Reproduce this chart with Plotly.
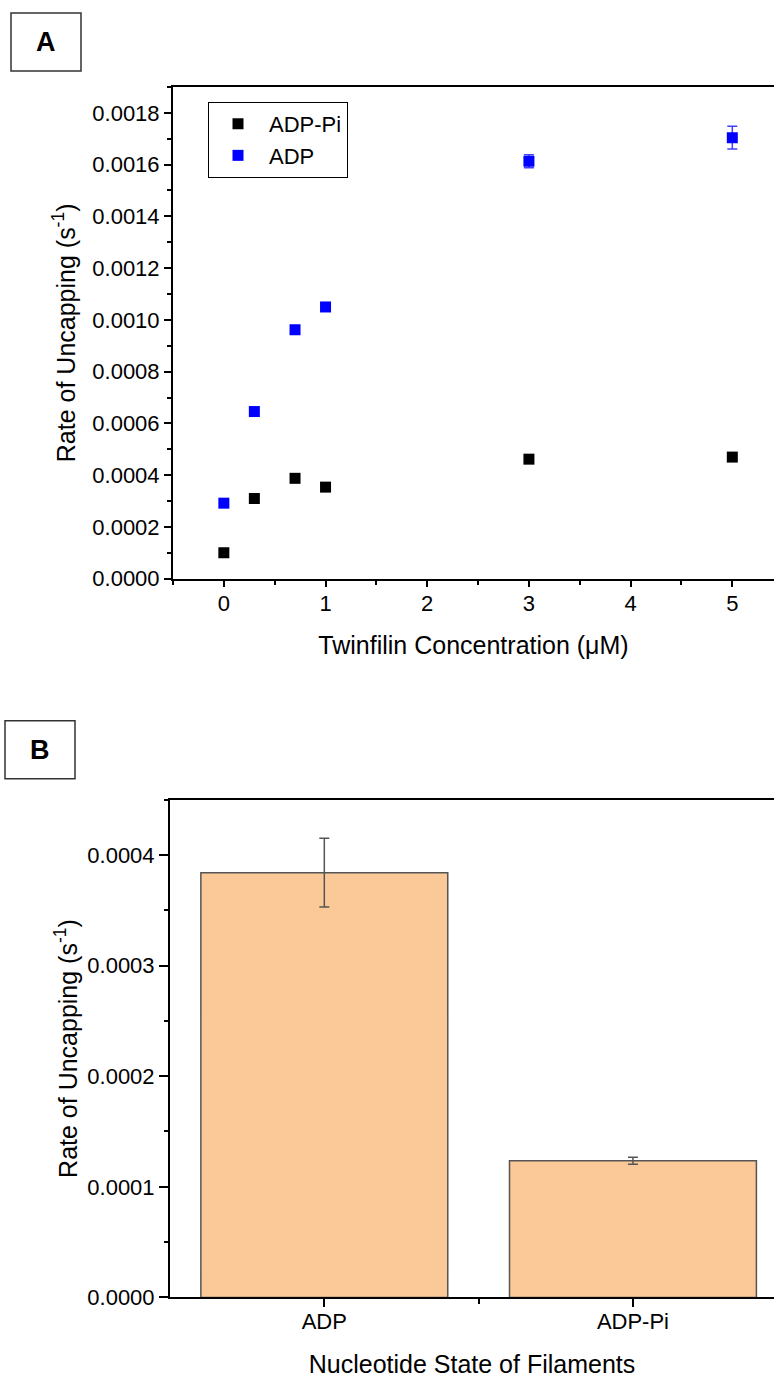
import plotly.graph_objects as go

# Panel A: uncapping rate versus twinfilin concentration
conc_um = [0, 0.3, 0.7, 1, 3, 5]
rate_adp_pi = [0.000100, 0.000310, 0.000388, 0.000354, 0.000462, 0.000470]
rate_adp = [0.000292, 0.000646, 0.000962, 0.001050, 0.001613, 0.001704]
rate_adp_err = [0, 0, 0, 0, 0.000025, 0.000044]

# Panel B: uncapping rate by nucleotide state
states = ["ADP", "ADP-Pi"]
state_rate = [0.000384, 0.0001236]
state_err = [0.0000311, 0.0000032]

W, H = 774, 1378
YS = 1 / 0.991  # vertical layout stretch
FONT = "Liberation Sans, Arial, sans-serif"
TICK = 22
TITLE = 25


def px_x(p):
    return p / W


def px_y(p):
    return 1 - p * YS / H


fig = go.Figure()

fig.add_trace(go.Scatter(
    x=conc_um, y=rate_adp_pi, mode="markers", name="ADP-Pi",
    marker=dict(symbol="square", size=11, color="black"),
    xaxis="x", yaxis="y",
))
fig.add_trace(go.Scatter(
    x=conc_um, y=rate_adp, mode="markers", name="ADP",
    marker=dict(symbol="square", size=11, color="#0000FF"),
    error_y=dict(type="data", array=rate_adp_err, visible=True,
                 color="rgba(0,0,255,0.75)", thickness=1.5, width=5),
    xaxis="x", yaxis="y",
))
fig.add_trace(go.Bar(
    x=list(range(len(states))), y=state_rate, width=0.8, showlegend=False,
    marker=dict(color="#FBC898", line=dict(color="#555555", width=1.5)),
    error_y=dict(type="data", array=state_err, visible=True,
                 color="#555555", thickness=1.5, width=5),
    xaxis="x2", yaxis="y2",
))

xaxis_common = dict(
    showline=True, linecolor="black", linewidth=2, mirror=True,
    ticks="outside", tickwidth=2, tickcolor="black",
    showgrid=False, zeroline=False,
    tickfont=dict(family=FONT, size=TICK, color="black"),
)
yaxis_common = dict(
    showline=True, linecolor="black", linewidth=2,
    ticks="outside", tickwidth=2, tickcolor="black",
    showgrid=False, zeroline=False, tickformat=".4f",
    tickfont=dict(family=FONT, size=TICK, color="black"),
)
minor_common = dict(ticks="outside", ticklen=4, tickwidth=2, tickcolor="black")

fig.update_layout(
    width=W, height=H,
    margin=dict(l=0, r=0, t=0, b=0),
    paper_bgcolor="white", plot_bgcolor="white",
    font=dict(family=FONT, color="black"),
    xaxis=dict(
        xaxis_common, domain=[px_x(173), 1], anchor="y",
        range=[-0.5, 5.41], tick0=0, dtick=1, ticklen=6,
        ticklabelstandoff=-2,
        minor=dict(minor_common, dtick=0.5),
        title=dict(text="Twinfilin Concentration (\u03bcM)",
                   font=dict(family=FONT, size=TITLE), standoff=21),
    ),
    yaxis=dict(
        yaxis_common, domain=[px_y(579), px_y(87)], anchor="x",
        range=[0, 0.0019], tick0=0, dtick=0.0002, ticklen=7,
        minor=dict(minor_common, dtick=0.0001),
        title=dict(text="Rate of Uncapping (s<sup>-1</sup>)",
                   font=dict(family=FONT, size=TITLE), standoff=10),
    ),
    xaxis2=dict(
        xaxis_common, domain=[px_x(170), 1], anchor="y2",
        range=[-0.5, 1.457], tickmode="array", ticklen=8,
        tickvals=list(range(len(states))), ticktext=states,
        ticklabelstandoff=-5,
        minor=dict(minor_common, tickmode="array", tickvals=[0.5], ticklen=5),
        title=dict(text="Nucleotide State of Filaments",
                   font=dict(family=FONT, size=TITLE), standoff=24),
    ),
    yaxis2=dict(
        yaxis_common, domain=[px_y(1298), px_y(800)], anchor="x2",
        range=[0, 0.00045], tick0=0, dtick=0.0001, ticklen=9,
        minor=dict(minor_common, dtick=0.00005),
        title=dict(text="Rate of Uncapping (s<sup>-1</sup>)",
                   font=dict(family=FONT, size=TITLE), standoff=3),
    ),
    legend=dict(
        x=px_x(208), y=px_y(102), xanchor="left", yanchor="top",
        bordercolor="black", borderwidth=1, bgcolor="white",
        font=dict(family=FONT, size=22, color="black"),
        indentation=-2, itemwidth=52,
    ),
    shapes=[
        dict(type="rect", xref="paper", yref="paper",
             x0=px_x(11), x1=px_x(81), y0=px_y(71), y1=px_y(13),
             line=dict(color="#333333", width=1.5)),
        dict(type="rect", xref="paper", yref="paper",
             x0=px_x(5), x1=px_x(75), y0=px_y(779), y1=px_y(721),
             line=dict(color="#333333", width=1.5)),
    ],
    annotations=[
        dict(text="<b>A</b>", xref="paper", yref="paper", x=px_x(46), y=px_y(42),
             xanchor="center", yanchor="middle", showarrow=False,
             font=dict(family=FONT, size=27, color="black")),
        dict(text="<b>B</b>", xref="paper", yref="paper", x=px_x(40), y=px_y(750),
             xanchor="center", yanchor="middle", showarrow=False,
             font=dict(family=FONT, size=27, color="black")),
    ],
)

fig.write_html("out.html")
